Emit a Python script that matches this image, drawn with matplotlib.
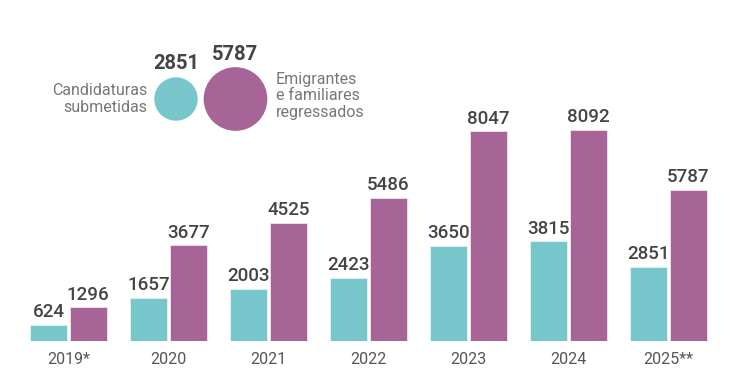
import numpy as np
import matplotlib.pyplot as plt
from matplotlib.patches import Circle

plt.rcParams['font.family'] = ['Roboto', 'DejaVu Sans']

# data
years = ["2019*", "2020", "2021", "2022", "2023", "2024", "2025**"]
candidaturas = [624, 1657, 2003, 2423, 3650, 3815, 2851]
emigrantes = [1296, 3677, 4525, 5486, 8047, 8092, 5787]

TEAL = "#76C6CB"
PURPLE = "#A66497"
DARK = "#444444"
GRAY = "#777777"

W, H = 750, 375
fig = plt.figure(figsize=(W / 100, H / 100), dpi=100)

# --- bars ---
ax = fig.add_axes([0, 34 / H, 1, 341 / H])
x = np.arange(len(years))
bw = 0.365
off = 0.198
ax.bar(x - off, candidaturas, bw, color=TEAL, edgecolor="#e6f4f5", linewidth=0.6)
ax.bar(x + off, emigrantes, bw, color=PURPLE, edgecolor="#f1e4ee", linewidth=0.6)

for xi, v in zip(x - off, candidaturas):
    ax.annotate(f"{v}", (xi, v), xytext=(0, 2.5), textcoords="offset points",
                ha="center", va="bottom", fontsize=13.5, fontweight="medium", color=DARK)
for xi, v in zip(x + off, emigrantes):
    ax.annotate(f"{v}", (xi, v), xytext=(0, 2.5), textcoords="offset points",
                ha="center", va="bottom", fontsize=13.5, fontweight="medium", color=DARK)

ax.set_xlim(-0.685, 6.815)
ax.set_ylim(0, 341 / 0.0261)
ax.set_xticks(x)
ax.set_xticklabels(years, fontsize=11.5, color="#555555")
ax.tick_params(axis="x", length=0, pad=8)
ax.set_yticks([])
for s in ax.spines.values():
    s.set_visible(False)

# --- bubble legend (pixel coords) ---
lg = fig.add_axes([0, 0, 1, 1], zorder=3)
lg.set_xlim(0, W)
lg.set_ylim(H, 0)
lg.axis("off")
lg.patch.set_alpha(0)

r_small = 21.7
r_big = r_small * np.sqrt(emigrantes[-1] / candidaturas[-1]) * 1.03
cy = 99
lg.add_patch(Circle((176, cy), r_small, color=TEAL, lw=0))
lg.add_patch(Circle((235.5, cy), r_big, color=PURPLE, lw=0))
lg.text(176.5, cy - r_small - 4, f"{candidaturas[-1]}", ha="center", va="bottom",
        fontsize=14.5, fontweight="bold", color=DARK)
lg.text(235.5, cy - r_big - 3, f"{emigrantes[-1]}", ha="center", va="bottom",
        fontsize=14.5, fontweight="bold", color=DARK)
lg.text(147, cy, "Candidaturas\nsubmetidas", ha="right", va="center",
        fontsize=11.5, color=GRAY, linespacing=1.15)
lg.text(276, cy - 3, "Emigrantes\ne familiares\nregressados", ha="left", va="center",
        fontsize=11.5, color=GRAY, linespacing=1.1)

fig.savefig("out.png", dpi=100)
